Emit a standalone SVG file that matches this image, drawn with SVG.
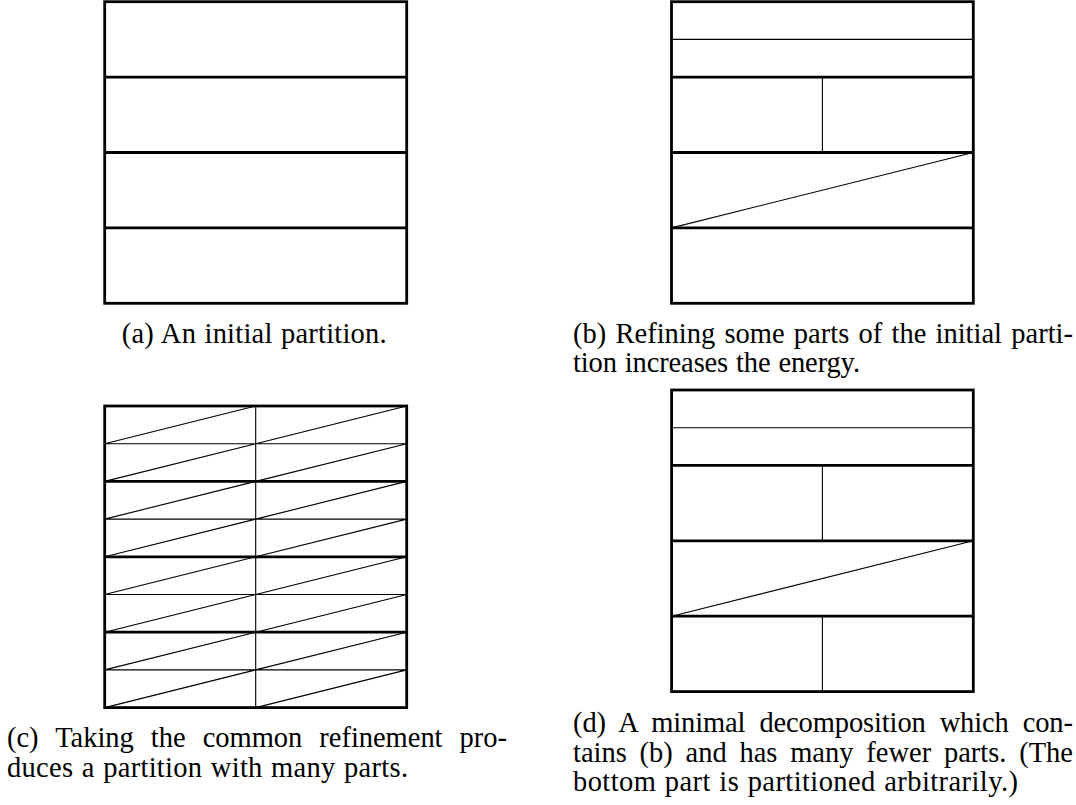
<svg xmlns="http://www.w3.org/2000/svg" width="1076" height="805" viewBox="0 0 1076 805">
<style>
.bg{fill:#fff}
.thick{fill:none;stroke:#000;stroke-width:2.8}
.thin{fill:none;stroke:#000;stroke-width:1.1}
.cap{font-family:"Liberation Serif","Times New Roman",serif;font-size:28.5px;fill:#000}
</style>
<rect class="bg" x="0" y="0" width="1076" height="805"/>
<g id="panel-a">
<path class="thick" d="M104.7 77.1H406.7M104.7 152.5H406.7M104.7 227.9H406.7"/>
<rect class="thick" x="104.7" y="1.7" width="302" height="301.6"/>
<text class="cap" x="121.7" y="343" textLength="265" lengthAdjust="spacing" style="word-spacing:1px">(a) An initial partition.</text>
</g>
<g id="panel-b">
<path class="thin" d="M671.5 39.4H973.3M822.4 77.1V152.5M671.5 227.9L973.3 152.5"/>
<path class="thick" d="M671.5 77.1H973.3M671.5 152.5H973.3M671.5 227.9H973.3"/>
<rect class="thick" x="671.5" y="1.7" width="301.8" height="301.6"/>
<text class="cap" x="573" y="343" textLength="500" lengthAdjust="spacing" style="word-spacing:2.1px">(b) Refining some parts of the initial parti-</text>
<text class="cap" x="573" y="372" textLength="287" lengthAdjust="spacing" style="word-spacing:1px">tion increases the energy.</text>
</g>
<g id="panel-c">
<path class="thin" d="M104.7 443.7H406.7M104.7 519.1H406.7M104.7 594.5H406.7M104.7 669.9H406.7M255.7 406V707.6
M104.7 443.7L255.7 406M255.7 443.7L406.7 406
M104.7 481.4L255.7 443.7M255.7 481.4L406.7 443.7
M104.7 519.1L255.7 481.4M255.7 519.1L406.7 481.4
M104.7 556.8L255.7 519.1M255.7 556.8L406.7 519.1
M104.7 594.5L255.7 556.8M255.7 594.5L406.7 556.8
M104.7 632.2L255.7 594.5M255.7 632.2L406.7 594.5
M104.7 669.9L255.7 632.2M255.7 669.9L406.7 632.2
M104.7 707.6L255.7 669.9M255.7 707.6L406.7 669.9"/>
<path class="thick" d="M104.7 481.4H406.7M104.7 556.8H406.7M104.7 632.2H406.7"/>
<rect class="thick" x="104.7" y="406" width="302" height="301.6"/>
<text class="cap" x="7" y="747" textLength="500" lengthAdjust="spacing" style="word-spacing:10px">(c) Taking the common refinement pro-</text>
<text class="cap" x="7" y="777" textLength="401" lengthAdjust="spacing" style="word-spacing:1px">duces a partition with many parts.</text>
</g>
<g id="panel-d">
<path class="thin" d="M671.6 427.7H973.3M822.4 465.4V540.8M822.4 616.2V691.6M671.6 616.2L973.3 540.8"/>
<path class="thick" d="M671.6 465.4H973.3M671.6 540.8H973.3M671.6 616.2H973.3"/>
<rect class="thick" x="671.6" y="390" width="301.7" height="301.6"/>
<text class="cap" x="573" y="732" textLength="500" lengthAdjust="spacing" style="word-spacing:7px">(d) A minimal decomposition which con-</text>
<text class="cap" x="573" y="762" textLength="500" lengthAdjust="spacing" style="word-spacing:5.6px">tains (b) and has many fewer parts. (The</text>
<text class="cap" x="573" y="791" textLength="445" lengthAdjust="spacing" style="word-spacing:1px">bottom part is partitioned arbitrarily.)</text>
</g>
</svg>
